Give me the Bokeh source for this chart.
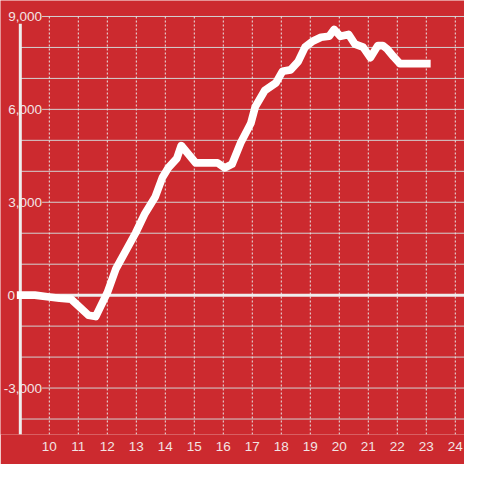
from bokeh.plotting import figure
from bokeh.models import ColumnDataSource, FixedTicker, Range1d
from bokeh.core.properties import value
from bokeh.embed import file_html
from bokeh.resources import INLINE

# ---- data ----
hours = [8.88, 9.5, 10.0, 10.35, 10.75, 11.35, 11.6, 12.0, 12.3, 12.98, 13.3, 13.65,
         13.9, 14.1, 14.4, 14.55, 14.75, 15.05, 15.8, 16.05, 16.3, 16.6, 16.95, 17.1,
         17.43, 17.82, 18.04, 18.32, 18.58, 18.82, 19.08, 19.37, 19.65, 19.82, 20.04,
         20.32, 20.54, 20.82, 21.07, 21.33, 21.5, 21.65, 21.87, 22.09, 23.15]
values = [0, 0, -60, -100, -130, -650, -690, 80, 860, 2016, 2640, 3170,
          3800, 4110, 4420, 4830, 4610, 4270, 4270, 4110, 4230, 4920, 5550, 6080,
          6610, 6860, 7230, 7275, 7540, 8010, 8200, 8330, 8360, 8580, 8360,
          8420, 8110, 8010, 7670, 8060, 8060, 7950, 7700, 7480, 7480]
x_ticks = [10, 11, 12, 13, 14, 15, 16, 17, 18, 19, 20, 21, 22, 23, 24]
y_grid_ticks = [-4000, -3000, -2000, -1000, 1000, 2000, 3000, 4000, 5000, 6000, 7000, 8000, 9000]
y_label_ticks = [-3000, 0, 3000, 6000, 9000]
y_label_texts = ["-3,000", "0", "3,000", "6,000", "9,000"]
axis_x = 9
y_min, y_max = -4500, 9000

BG = "#cc2a2f"
TXT = "#f2e4e4"
FONT = "Liberation Sans"

X_START, X_END = 8.3167, 24.317
Y_START, Y_END = -4500, 9516

p = figure(width=464, height=464, output_backend="svg", toolbar_location=None,
           x_range=Range1d(X_START, X_END), y_range=Range1d(Y_START, Y_END),
           min_border_left=0, min_border_right=0, min_border_top=0, min_border_bottom=30)
p.background_fill_color = BG
p.border_fill_color = BG
p.outline_line_color = None
p.yaxis.visible = False
p.xgrid.visible = False
p.ygrid.visible = False

# x axis: labels only
p.xaxis.ticker = FixedTicker(ticks=x_ticks)
p.xaxis.axis_line_color = None
p.xaxis.major_tick_line_color = None
p.xaxis.minor_tick_line_color = None
p.xaxis.major_tick_out = 0
p.xaxis.major_tick_in = 0
p.xaxis.major_label_standoff = 7
p.xaxis.major_label_text_font = FONT
p.xaxis.major_label_text_font_size = "13.5px"
p.xaxis.major_label_text_color = TXT

# horizontal grid lines (solid)
p.segment(x0=[axis_x] * len(y_grid_ticks), x1=[X_END] * len(y_grid_ticks),
          y0=y_grid_ticks, y1=y_grid_ticks, line_color="#d2d2d2", line_width=1)
# vertical grid lines (dashed)
p.segment(x0=x_ticks, x1=x_ticks, y0=[y_min] * len(x_ticks), y1=[y_max] * len(x_ticks),
          line_color="#e8e8e8", line_width=1, line_dash="2 2")

# y labels with background
offsets = [-5.3 if t == 0 else 21.75 for t in y_label_ticks]
lab_src = ColumnDataSource(dict(x=[axis_x] * len(y_label_ticks), y=y_label_ticks,
                                t=y_label_texts, off=offsets))
p.text(x="x", y="y", text="t", x_offset="off", source=lab_src,
       text_align="right", text_baseline="middle",
       text_font=value(FONT), text_font_size=value("13.5px"), text_color=TXT,
       background_fill_color=BG)

# axis line
p.segment(x0=[axis_x], x1=[axis_x], y0=[y_min], y1=[8766], line_color="#eeeeee", line_width=3)
# zero line
p.segment(x0=[8.883], x1=[X_END], y0=[0], y1=[0], line_color="#eeeeee", line_width=3)

# data line
src = ColumnDataSource(dict(h=hours, v=values))
p.line("h", "v", source=src, line_color="white", line_width=7.7,
       line_join="round", line_cap="butt")

open("out.html", "w").write(file_html(p, INLINE))
